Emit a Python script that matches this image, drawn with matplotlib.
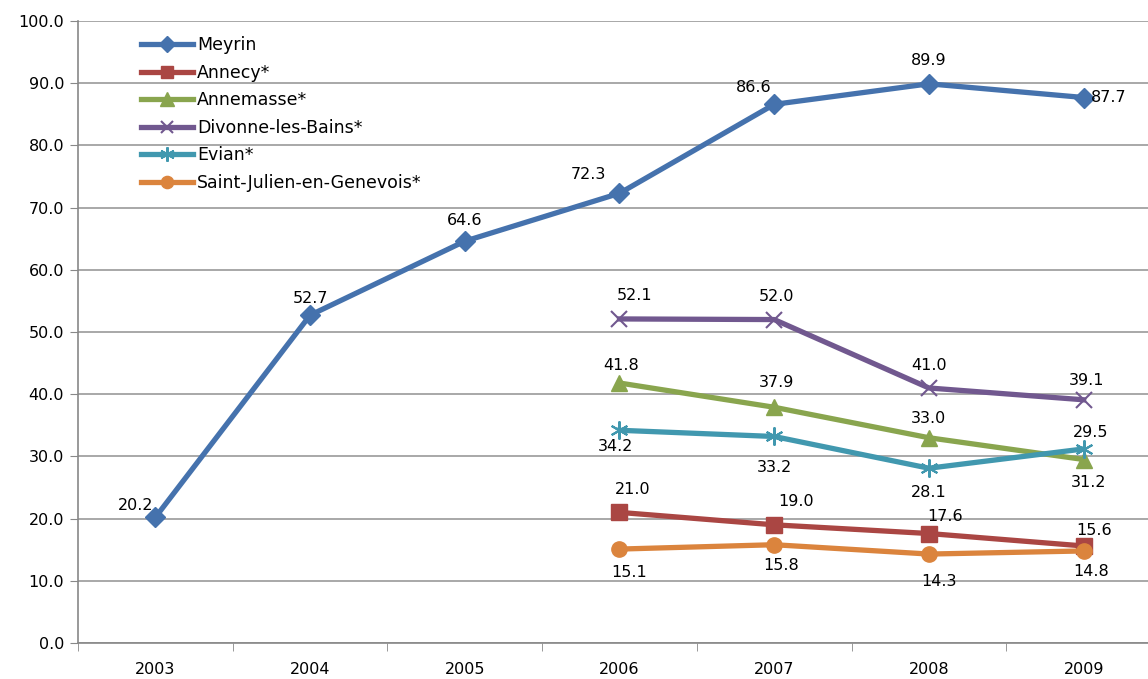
import matplotlib.pyplot as plt

years = ["2003", "2004", "2005", "2006", "2007", "2008", "2009"]

meyrin = [20.2, 52.7, 64.6, 72.3, 86.6, 89.9, 87.7]
annecy = [None, None, None, 21.0, 19.0, 17.6, 15.6]
annemasse = [None, None, None, 41.8, 37.9, 33.0, 29.5]
divonne = [None, None, None, 52.1, 52.0, 41.0, 39.1]
evian = [None, None, None, 34.2, 33.2, 28.1, 31.2]
saint_julien = [None, None, None, 15.1, 15.8, 14.3, 14.8]

# series: name, values, colour, marker, marker size, label offsets (px)
series = [
    ("Meyrin", meyrin, "#4572AD", "D", 10,
     [(-20, 12), (0, 17), (0, 21), (-31, 19), (-21, 17), (0, 23), (25, 0)]),
    ("Annecy*", annecy, "#AA4643", "s", 11,
     [None, None, None, (13, 23), (22, 23), (16, 17), (10, 15)]),
    ("Annemasse*", annemasse, "#89A54E", "^", 12,
     [None, None, None, (2, 18), (2, 25), (0, 19), (7, 27)]),
    ("Divonne-les-Bains*", divonne, "#71588F", "x", 11,
     [None, None, None, (15, 23), (2, 23), (0, 22), (3, 19)]),
    ("Evian*", evian, "#4198AF", (6, 2, 0), 13,
     [None, None, None, (-4, -16), (0, -31), (0, -24), (5, -34)]),
    ("Saint-Julien-en-Genevois*", saint_julien, "#DB843D", "o", 11,
     [None, None, None, (10, -23), (7, -21), (10, -27), (7, -21)]),
]

fig = plt.figure(figsize=(11.48, 6.79), dpi=100)
ax = fig.add_axes((78 / 1148, 36 / 679, 1083 / 1148, 622 / 679))

x = list(range(len(years)))
for name, vals, col, mk, ms, offs in series:
    xs = [i for i, v in zip(x, vals) if v is not None]
    ys = [v for v in vals if v is not None]
    mew = 1.5 if mk == "x" or isinstance(mk, tuple) else 1
    ax.plot(xs, ys, color=col, lw=3.8, marker=mk, ms=ms, mew=mew,
            mec=col, mfc=col, label=name, zorder=3)
    for i, v in enumerate(vals):
        if v is None:
            continue
        dx, dy = offs[i]
        ax.annotate(f"{v:.1f}", (i, v), xytext=(dx, dy), textcoords="offset pixels",
                    ha="center", va="center", fontsize=11.5, color="black", zorder=4)

ax.set_xlim(-0.5, 6.5)
ax.set_ylim(0, 100)
ax.set_yticks(range(0, 101, 10))
ax.set_yticklabels([f"{v:.1f}" for v in range(0, 101, 10)], fontsize=11.5)
ax.set_xticks(x)
ax.set_xticklabels(years, fontsize=11.5)
ax.set_xticks([i - 0.5 for i in range(8)], minor=True)
ax.tick_params(axis="x", which="major", length=0, pad=14)
ax.tick_params(axis="x", which="minor", length=6, color="#888888", direction="out")
ax.tick_params(axis="y", length=6, color="#888888", direction="out", pad=4)
ax.grid(axis="y", color="#999999", lw=1.2)
ax.set_axisbelow(True)
for s in ["top", "right"]:
    ax.spines[s].set_visible(False)
ax.spines["left"].set_color("#888888")
ax.spines["bottom"].set_color("#888888")
ax.spines["left"].set_linewidth(1.2)
ax.spines["bottom"].set_linewidth(1.2)

ax.legend(loc="upper left", bbox_to_anchor=(0.052, 0.987), frameon=False,
          fontsize=12.5, handlelength=3.0, handletextpad=0.2, labelspacing=0.55,
          markerscale=0.8, borderaxespad=0)

fig.savefig("out.png", dpi=100)
